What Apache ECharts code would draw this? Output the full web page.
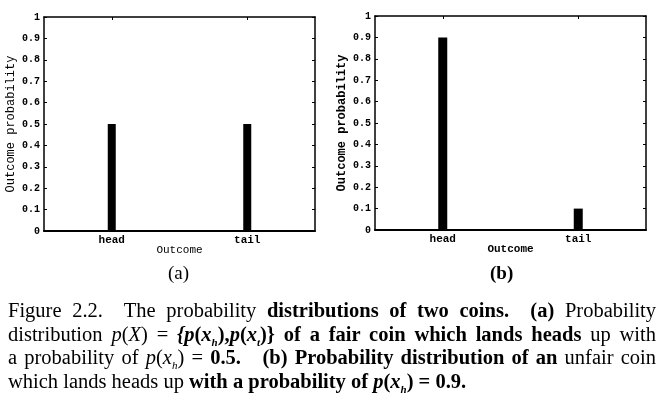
<!DOCTYPE html>
<html>
<head>
<meta charset="utf-8">
<script src="https://cdn.jsdelivr.net/npm/echarts@6/dist/echarts.min.js"></script>
<style>
html,body{margin:0;padding:0;background:#fff;}
#chart{position:absolute;left:0;top:0;width:662px;height:400px;}
#cap{position:absolute;left:8px;top:299px;width:648px;font-family:"Liberation Serif","DejaVu Serif",serif;font-size:20.5px;color:#000;}
#cap div{height:23.5px;line-height:23.5px;text-align:justify;text-align-last:justify;white-space:nowrap;}
#cap div.last{text-align-last:left;}
sub{font-size:11px;}
b{font-weight:900;}
</style>
</head>
<body>
<div id="chart"></div>
<div id="cap">
<div>Figure 2.2.&nbsp; The probability <b>distributions of two coins.</b>&nbsp; <b>(a)</b> Probability</div>
<div>distribution <i>p</i>(<i>X</i>) = <b><i>{p</i>(<i>x<sub>h</sub></i>),<i>p</i>(<i>x<sub>t</sub></i>)}</b> <b>of a fair coin which lands heads</b> up with</div>
<div>a probability of <i>p</i>(<i>x<sub>h</sub></i>) = <b>0.5.</b>&nbsp;&nbsp; <b>(b) Probability distribution of an</b> unfair coin</div>
<div class="last">which lands heads up <b>with a probability of <i>p</i>(<i>x<sub>h</sub></i>) = 0.9.</b></div>
</div>
<script>
const categories = ['head', 'tail'];
const fairValues = [0.5, 0.5];
const unfairValues = [0.9, 0.1];
const yTicks = ['0', '0.1', '0.2', '0.3', '0.4', '0.5', '0.6', '0.7', '0.8', '0.9', '1'];

const mono = '"Liberation Mono","DejaVu Sans Mono",monospace';
const chart = echarts.init(document.getElementById('chart'));

function yLabel(v) {
  const i = Math.round(v * 10);
  return yTicks[i] !== undefined ? yTicks[i] : '';
}

const grids = [
  {left: 44, top: 17, width: 271, height: 214},
  {left: 375, top: 16, width: 271, height: 214}
];

function xAxes(gi, bold) {
  return [
    {
      type: 'category', gridIndex: gi, data: categories, position: 'bottom',
      axisLine: {show: true, onZero: false, lineStyle: {color: '#000', width: 2}},
      axisTick: {show: true, inside: true, alignWithLabel: true, length: 3, lineStyle: {color: '#000'}},
      axisLabel: {fontFamily: mono, fontWeight: 'bold', fontSize: 11, color: '#000', margin: 4},
      name: 'Outcome', nameLocation: 'middle', nameGap: 14, nameMoveOverlap: false,
      nameTextStyle: {fontFamily: mono, fontSize: 11, color: '#000', fontWeight: bold ? 'bold' : 'normal'}
    },
    {
      type: 'category', gridIndex: gi, data: categories, position: 'top',
      axisLine: {show: true, onZero: false, lineStyle: {color: '#000', width: 1.5}},
      axisTick: {show: true, inside: true, alignWithLabel: true, length: 3, lineStyle: {color: '#000'}},
      axisLabel: {show: false}
    }
  ];
}

function yAxes(gi, bold) {
  return [
    {
      type: 'value', gridIndex: gi, min: 0, max: 1, interval: 0.1, position: 'left',
      splitLine: {show: false},
      axisLine: {show: true, onZero: false, lineStyle: {color: '#000', width: 1.5}},
      axisTick: {show: true, inside: true, length: 3, lineStyle: {color: '#000'}},
      axisLabel: {formatter: yLabel, fontFamily: mono, fontWeight: 'bold', fontSize: 10, color: '#000', margin: 4},
      name: 'Outcome probability', nameLocation: 'middle', nameGap: 27, nameRotate: 90, nameMoveOverlap: false,
      nameTextStyle: {fontFamily: mono, fontSize: 12, color: '#000', fontWeight: bold ? 'bold' : 'normal'}
    },
    {
      type: 'value', gridIndex: gi, min: 0, max: 1, interval: 0.1, position: 'right',
      splitLine: {show: false},
      axisLine: {show: true, onZero: false, lineStyle: {color: '#000', width: 1.5}},
      axisTick: {show: true, inside: true, length: 3, lineStyle: {color: '#000'}},
      axisLabel: {show: false}
    }
  ];
}

chart.setOption({
  animation: false,
  backgroundColor: '#fff',
  grid: grids,
  xAxis: [...xAxes(0, false), ...xAxes(1, true)],
  yAxis: [...yAxes(0, false), ...yAxes(1, true)],
  series: [
    {type: 'bar', xAxisIndex: 0, yAxisIndex: 0, data: fairValues, barWidth: 8, itemStyle: {color: '#000'}},
    {type: 'bar', xAxisIndex: 2, yAxisIndex: 2, data: unfairValues, barWidth: 9, itemStyle: {color: '#000'}}
  ],
  graphic: [
    {type: 'text', left: 168, top: 265, style: {text: '(a)', font: '19px "Liberation Serif", serif', fill: '#000'}},
    {type: 'text', left: 490, top: 265, style: {text: '(b)', font: 'bold 19px "Liberation Serif", serif', fill: '#000'}}
  ]
});
</script>
</body>
</html>
